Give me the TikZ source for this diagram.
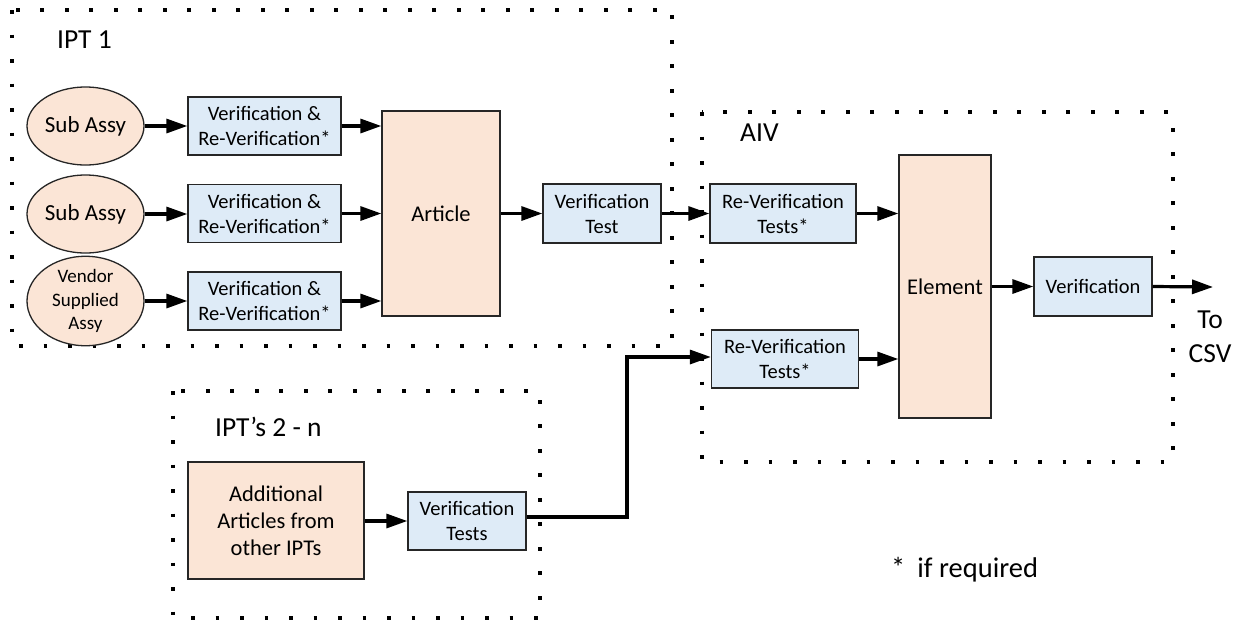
\documentclass[tikz,border=0pt]{standalone}
\usepackage{fontspec}
\setmainfont{Carlito}
\usetikzlibrary{arrows.meta,shapes.geometric}
\definecolor{peach}{HTML}{FBE5D6}
\definecolor{lblue}{HTML}{DEEBF7}
\tikzset{
  peachbox/.style={draw=black!85,line width=1.3pt,fill=peach,inner sep=0pt,align=center,font=\fontsize{22.5}{27}\selectfont},
  bluebox/.style={draw=black!85,line width=1.3pt,fill=lblue,inner sep=0pt,align=center,font=\fontsize{20.5}{25}\selectfont,minimum width=118pt,minimum height=59pt},
  sub/.style={ellipse,draw=black!85,line width=1.3pt,fill=peach,inner sep=0pt,align=center,minimum width=117pt,minimum height=78pt},
  grp/.style={draw=black,line width=3.6pt,dash pattern=on 3.6pt off 20.9pt},
  flow/.style={line width=3.2pt,-{Triangle[length=21pt,width=14pt]}},
  lab/.style={font=\fontsize{27.5}{34}\selectfont,inner sep=0pt},
}
\begin{document}
\begin{tikzpicture}[x=1pt,y=-1pt]
\useasboundingbox (0,0) rectangle (1241,625);
% group boxes
\draw[grp] (12,10) rectangle (672,346);
\draw[grp] (702,112) rectangle (1173,462);
\draw[grp] (173,391) rectangle (540,618);
\node[lab,anchor=west] (l1) at (57,40) {IPT 1};
\node[lab,anchor=west] (l2) at (740,133) {AIV};
\node[lab,anchor=west] (l3) at (215,427) {IPT’s 2 - n};
% IPT 1
\node[sub,font=\fontsize{23}{27}\selectfont] (e1) at (85.5,126) {Sub Assy};
\node[sub,font=\fontsize{23}{27}\selectfont] (e2) at (85.5,214) {Sub Assy};
\node[sub,font=\fontsize{19}{23.5}\selectfont] (e3) at (85.5,301) {Vendor\\Supplied\\Assy};
\node[bluebox,minimum width=153pt,minimum height=58pt] (v1) at (264.5,126) {Verification \&\\Re-Verification*};
\node[bluebox,minimum width=153pt,minimum height=58pt] (v2) at (264.5,213.5) {Verification \&\\Re-Verification*};
\node[bluebox,minimum width=153pt,minimum height=58pt] (v3) at (264.5,301) {Verification \&\\Re-Verification*};
\node[peachbox,minimum width=118pt,minimum height=205pt] (art) at (441,213.5) {Article};
\node[bluebox] (vt) at (602,213.5) {Verification\\Test};
% AIV
\node[bluebox,minimum width=146pt] (rv1) at (783,213.5) {Re-Verification\\Tests*};
\node[bluebox,minimum width=147pt,minimum height=58pt] (rv2) at (785,359) {Re-Verification\\Tests*};
\node[peachbox,minimum width=92pt,minimum height=263pt] (elem) at (945,286.5) {Element};
\node[bluebox] (ver) at (1093,286.5) {Verification};
\coordinate (out) at (1213,287);
\node[lab,align=center] (csv) at (1210,337) {To\\CSV};
% IPT 2-n
\node[peachbox,minimum width=176pt,minimum height=117pt] (add) at (276,520.5) {Additional\\Articles from\\other IPTs};
\node[bluebox,minimum height=58pt] (vts) at (467,521) {Verification\\Tests};
\coordinate (bend) at (627,517);
% note
\node[font=\fontsize{28.5}{32}\selectfont,inner sep=0pt,anchor=base west] (note) at (891,577) {*\hspace{12pt}if required};
% connectors
\draw[flow] (e1) -- (v1);
\draw[flow] (e2.east) -- (v2.west |- e2.east);
\draw[flow] (e3.east) -- (v3.west |- e3.east);
\draw[flow] (v1.east) -- (v1.east -| art.west);
\draw[flow] (v2.east) -- (v2.east -| art.west);
\draw[flow] (v3.east) -- (v3.east -| art.west);
\draw[flow] (art.east |- vt.west) -- (vt.west);
\draw[flow] (vt.east) -- (rv1.west);
\draw[flow] (rv1.east) -- (rv1.east -| elem.west);
\draw[flow] (rv2.east) -- (rv2.east -| elem.west);
\draw[flow] (elem.east |- ver.west) -- (ver.west);
\draw[flow] (ver.east) -- (out);
\draw[flow] (add.east |- vts.west) -- (vts.west);
\draw[flow] (vts.east |- bend) -- (bend) |- ([yshift=2pt]rv2.west);
\end{tikzpicture}
\end{document}
